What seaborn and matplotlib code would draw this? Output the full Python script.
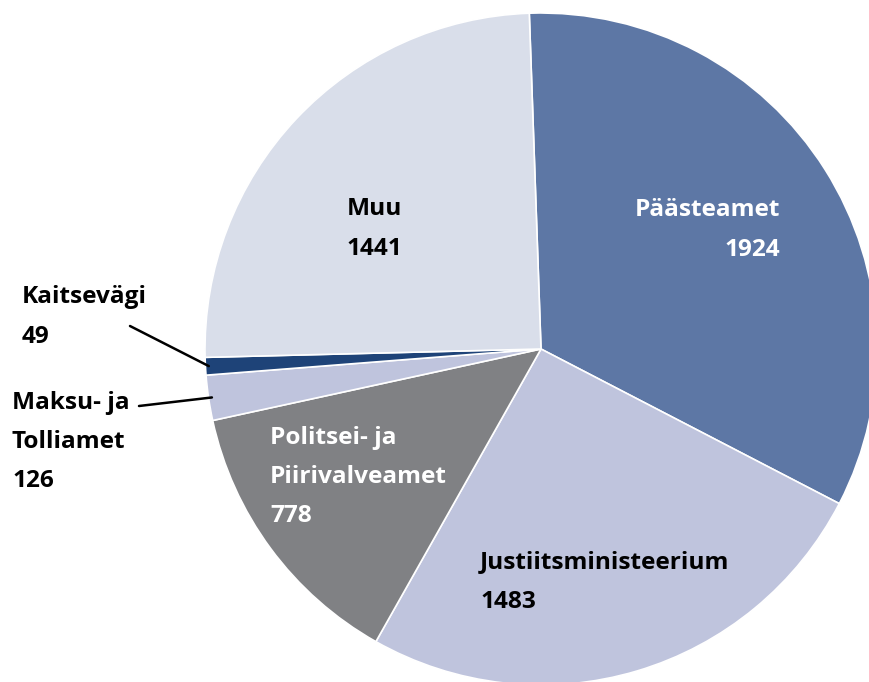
import matplotlib
matplotlib.use("Agg")
import matplotlib.pyplot as plt
import seaborn as sns
import numpy as np

categories = ["Päästeamet", "Justiitsministeerium", "Politsei- ja\nPiirivalveamet",
              "Maksu- ja\nTolliamet", "Kaitsevägi", "Muu"]
values = [1924, 1483, 778, 126, 49, 1441]
colors = ["#5D77A5", "#BFC4DD", "#808184", "#BFC4DD", "#1E4378", "#D9DEEA"]

sns.set_theme(style="white")
plt.rcParams['font.family'] = ['Open Sans', 'DejaVu Sans']

W, H = 869, 682
fig = plt.figure(figsize=(W / 100, H / 100), dpi=100)
cx, cy, r = 541, 349, 336
ax = fig.add_axes([(cx - r) / W, (H - cy - r) / H, 2 * r / W, 2 * r / H])
ax.set_xlim(-1, 1)
ax.set_ylim(-1, 1)
ax.set_aspect("equal")
ax.axis("off")

wedges, _ = ax.pie(values, colors=colors, startangle=92, counterclock=False,
                   radius=1, center=(0, 0),
                   wedgeprops=dict(edgecolor="white", linewidth=1.2))
ax.set_xlim(-1, 1)
ax.set_ylim(-1, 1)

def px(x, y):
    return ((x - cx) / r, (cy - y) / r)

fs = 17.6
ls = 1.86
kw = dict(fontsize=fs, fontweight="bold", linespacing=ls, transform=ax.transData)

x, y = px(780, 230)
ax.text(x, y, f"{categories[0]}\n{values[0]}", color="white", ha="right", va="center",
        multialignment="right", **kw)
x, y = px(347, 229)
ax.text(x, y, f"{categories[5]}\n{values[5]}", color="black", ha="left", va="center", **kw)
x, y = px(480, 582)
ax.text(x, y, f"{categories[1]}\n{values[1]}", color="black", ha="left", va="center", **kw)
x, y = px(270, 477)
ax.text(x, y, f"{categories[2]}\n{values[2]}", color="white", ha="left", va="center", **kw)

def edge_point(w):
    th = np.deg2rad((w.theta1 + w.theta2) / 2)
    return np.cos(th), np.sin(th)

x, y = px(12, 442)
ax.text(x, y, f"{categories[3]}\n{values[3]}", color="black", ha="left", va="center",
        clip_on=False, **kw)
ex, ey = edge_point(wedges[3])
sx, sy = px(139, 406)
ax.plot([sx, ex * 0.99], [sy, ey * 0.99], color="black", lw=1.8, clip_on=False)

x, y = px(22, 317)
ax.text(x, y, f"{categories[4]}\n{values[4]}", color="black", ha="left", va="center",
        clip_on=False, **kw)
ex, ey = edge_point(wedges[4])
sx, sy = px(130, 326)
ax.plot([sx, ex * 0.99], [sy, ey * 0.99], color="black", lw=1.8, clip_on=False)

for w in wedges:
    w.set_clip_on(False)

fig.savefig("out.png", dpi=100, facecolor="white")
